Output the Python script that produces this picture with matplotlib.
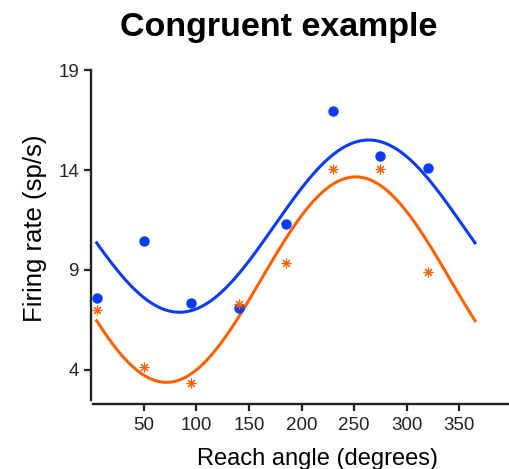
import numpy as np
import matplotlib
matplotlib.use('Agg')
import matplotlib.pyplot as plt

# Datos
angulos = np.array([5, 50, 95, 140, 185, 230, 275, 320])
tasa_azul = np.array([7.6, 10.45, 7.35, 7.1, 11.3, 16.95, 14.7, 14.1])
tasa_naranja = np.array([7.0, 4.15, 3.35, 7.3, 9.35, 14.05, 14.05, 8.9])

xticks = [50, 100, 150, 200, 250, 300, 350]
yticks = [4, 9, 14, 19]

azul = '#0a3cf5'
naranja = '#ff6000'

plt.rcParams['font.family'] = ['Liberation Sans', 'DejaVu Sans']


def ajuste_coseno(theta, y):
    # ajuste por minimos cuadrados: b0 + b1*cos + b2*sin
    th = np.deg2rad(theta)
    A = np.column_stack([np.ones_like(th), np.cos(th), np.sin(th)])
    coef = np.linalg.lstsq(A, y, rcond=None)[0]
    return coef


def evaluo(coef, theta):
    th = np.deg2rad(theta)
    return coef[0] + coef[1] * np.cos(th) + coef[2] * np.sin(th)


theta_fino = np.linspace(5, 365, 400)
curva_azul = evaluo(ajuste_coseno(angulos, tasa_azul), theta_fino)
curva_naranja = evaluo(ajuste_coseno(angulos, tasa_naranja), theta_fino)

fig = plt.figure(figsize=(5.1, 4.69), dpi=100)
ax = fig.add_axes([91.4 / 510, 1 - 400 / 469, 420.4 / 510, 330 / 469])

ax.plot(theta_fino, curva_azul, color=azul, linewidth=2.2, zorder=3)
ax.plot(theta_fino, curva_naranja, color=naranja, linewidth=2.2, zorder=3)
ax.plot(angulos, tasa_azul, 'o', color=azul, markersize=6.5, zorder=4)
ax.plot(angulos, tasa_naranja, linestyle='none', marker=(8, 2, 0), color=naranja,
        markersize=7, markeredgewidth=0.8, zorder=4)

ax.set_xlim(0, 400)
ax.set_ylim(2.5, 19)
ax.set_xticks(xticks)
ax.set_yticks(yticks)

for lado in ['top', 'right']:
    ax.spines[lado].set_visible(False)
for lado in ['left', 'bottom']:
    ax.spines[lado].set_linewidth(1.7)
    ax.spines[lado].set_color('#222222')
ax.spines['bottom'].set_position(('outward', 3))
ax.spines['bottom'].set_bounds(1.5, 400)

ax.tick_params(axis='both', length=5, width=1.6, color='#222222', labelsize=13.5,
               labelcolor='#222222', pad=4)

fig.text(279 / 510, 1 - 36 / 469, 'Congruent example', ha='center', va='baseline',
         fontsize=24.5, fontweight='bold')
fig.text(318 / 510, 1 - 465 / 469, 'Reach angle (degrees)', ha='center', va='baseline',
         fontsize=17)
fig.text(35 / 510, 1 - 228 / 469, 'Firing rate (sp/s)', ha='center', va='center',
         rotation=90, fontsize=18.5)

plt.savefig('out.png', dpi=100)
